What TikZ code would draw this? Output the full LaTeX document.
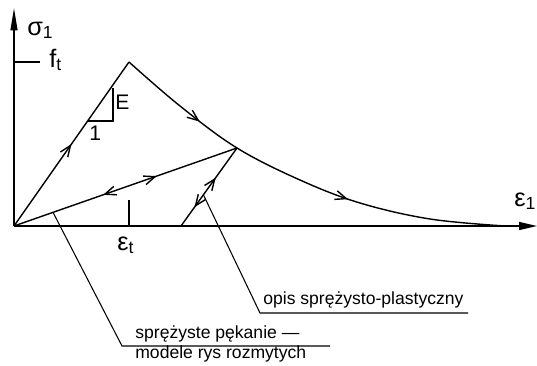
\documentclass[tikz,border=0pt]{standalone}
\usepackage{fontspec}
\setmainfont{Liberation Sans}
\usetikzlibrary{arrows.meta, decorations.markings, calc}

\begin{document}
\begin{tikzpicture}[
  x=0.02cm, y=-0.02cm,
  every node/.style={font=\normalsize},
  curve/.style={line width=0.8pt},
  leader/.style={line width=0.6pt},
  axislabel/.style={font=\Large, inner sep=0pt, anchor=base west},
  note/.style={inner sep=0pt, anchor=base west},
  >={Straight Barb[length=2.2mm, width=1.8mm]},
  fwd/.style={postaction={decorate, decoration={markings,
      mark=at position #1 with {\arrow{>}}}}},
  back/.style={postaction={decorate, decoration={markings,
      mark=at position #1 with {\arrowreversed{>}}}}},
]
  \useasboundingbox (0,0) rectangle (537,365);

  % Points of the diagram
  \coordinate (O) at (14,226);
  \coordinate (peak) at (129,62);
  \coordinate (unl) at (237,148);
  \coordinate (res) at (181,226);
  \coordinate (ymax) at (14,8);
  \coordinate (xmax) at (537,226);

  % Axes
  \draw[curve, -{Triangle[length=0.45cm, width=0.14cm]}] (O) -- (ymax);
  \draw[curve, -{Triangle[length=0.36cm, width=0.16cm]}] (O) -- (xmax);
  \node[axislabel] (sig) at (27,35) {σ\textsubscript{1}};
  \node[axislabel] (eps) at (514,206) {ε\textsubscript{1}};

  % f_t and eps_t ticks
  \coordinate (ft) at (O |- peak);
  \coordinate (et) at (peak |- O);
  \draw[curve] (ft) -- ++(26,0);
  \node[axislabel] (ftl) at (49,67) {f\textsubscript{t}};
  \draw[curve] (et) -- ++(0,-26);
  \node[axislabel] (etl) at (117,250) {ε\textsubscript{t}};

  % Slope triangle
  \draw[curve] (113,88) -- (113,121) -- (88,121);
  \node[axislabel, font=\large] (E) at (115,109) {E};
  \node[axislabel, font=\large] (one) at (89,140) {1};

  % Loading and softening
  \draw[curve, fwd=0.5] (O) -- (peak);
  \draw[curve, fwd=0.22, fwd=0.62] plot[smooth, tension=0.6] coordinates
    {(peak) (180,106) (unl) (300,180) (360,203) (430,219) (505,226)};

  % Unloading paths
  \draw[curve, back=0.4, fwd=0.64] (O) -- (unl);
  \draw[curve, back=0.24, fwd=0.62] (res) -- (unl);

  % Leaders and descriptions
  \coordinate (l1) at ($(O)!0.175!(unl)$);
  \coordinate (k1) at (122,346);
  \coordinate (e1) at (330,346);
  \draw[leader] (l1) -- (k1) -- (e1);
  \node[note] (crack) at (135,338) {sprężyste pękanie —};
  \node[note] (smear) at (135,358) {modele rys rozmytych};

  \coordinate (l2) at ($(res)!0.4!(unl)$);
  \coordinate (k2) at (260,313);
  \coordinate (e2) at (468,313);
  \draw[leader] (l2) -- (k2) -- (e2);
  \node[note] (plast) at (263,304) {opis sprężysto-plastyczny};
\end{tikzpicture}
\end{document}
